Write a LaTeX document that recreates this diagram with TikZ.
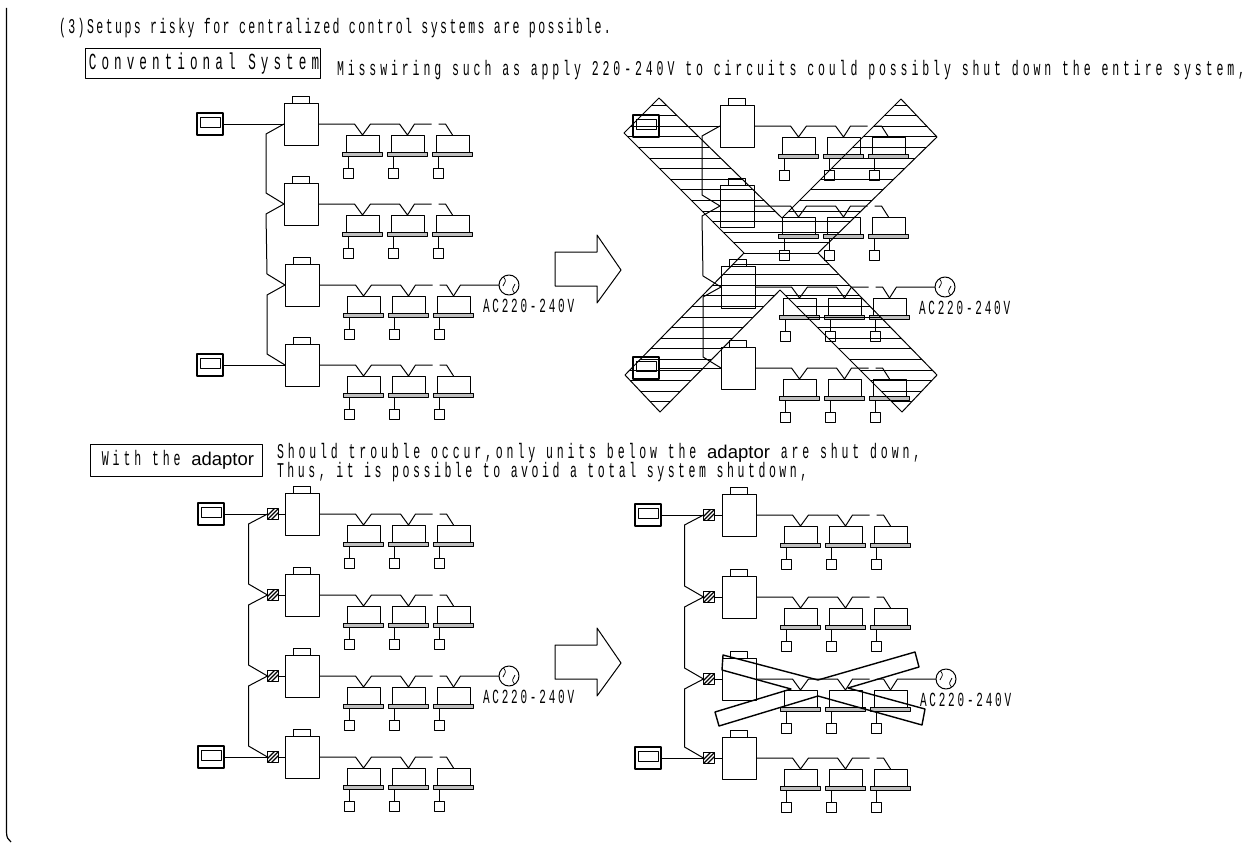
\documentclass[tikz,border=0pt]{standalone}
\usepackage{fontspec}
\usepackage{tikz}
\usetikzlibrary{calc}
\newfontfamily\platefont[FakeStretch=0.55]{Liberation Mono}
\newfontfamily\swapfont{Liberation Sans}
\newcommand{\adaptorword}[1]{{\swapfont\fontsize{#1}{#1}\selectfont adaptor}}
\newcommand{\plateset}[2]{\platefont\fontsize{#1}{#1}\selectfont\addfontfeature{LetterSpace=#2}}

% one outdoor unit with its three indoor units
\newcommand{\unitrow}[3]{
\node (#1o) [outbox, anchor=west] at (#2,#3) {};
\node (#1cap) [capbox, anchor=south] at (#1o.north) {};
\foreach \i/\dx in {1/62,2/107,3/152} {
\node (#1u\i) [indoorbox, anchor=north west] at (#2+\dx,#3+11) {};
\node (#1p\i) [panbox, anchor=north] at (#1u\i.south) {};
\node (#1c\i) [ctrlbox, anchor=north] at ($(#1p\i.south)+(-14,12)$) {};
\draw (#1p\i.south -| #1c\i.north) -- (#1c\i.north);
}
\draw (#1o.east) -- ($(#1u1.north)+(-8,-11)$) -- (#1u1.north) -- ($(#1u1.north)+(8,-11)$) -- ($(#1u2.north)+(-8,-11)$) -- (#1u2.north) -- ($(#1u2.north)+(7,-11)$) -- ($(#1u3.north)+(-21,-11)$);
\draw ($(#1u3.north)+(-14,-11)$) -- ($(#1u3.north)+(-7,-11)$) -- (#1u3.north);
}
\newcommand{\remoteunit}[3]{
\node (#1) [remotebox] at (#2,#3) {};
\node (#1s) [screenbox, anchor=north] at ($(#1.north)+(0,4)$) {};
}
\newcommand{\acsource}[1]{
\node (#1ac) [acbox] at ($(#1o.west)+(224,0)$) {};
\node (#1aclabel) [anchor=west, font=\plateset{20}{14}] at ($(#1ac)+(-26,21)$) {AC220-240V};
\draw (#1u3.north) -- ($(#1u3.north)+(7,-11)$) -- (#1ac.west);
\draw[line width=0.7pt] ($(#1ac)+(-6,1)$) .. controls ($(#1ac)+(-4,-4)$) and ($(#1ac)+(-2,-3)$) .. (#1ac) .. controls ($(#1ac)+(2,3)$) and ($(#1ac)+(4,4)$) .. ($(#1ac)+(6,-1)$);
}

\begin{document}
\begin{tikzpicture}[x=1pt, y=-1pt, line width=1pt, line join=round,
every node/.style={inner sep=0pt, outer sep=0pt},
outbox/.style={draw, minimum width=34pt, minimum height=42pt},
capbox/.style={draw, minimum width=17pt, minimum height=7pt},
indoorbox/.style={draw, minimum width=33pt, minimum height=17pt},
panbox/.style={draw, fill=black!25, minimum width=40pt, minimum height=4pt},
ctrlbox/.style={draw, minimum size=10pt},
remotebox/.style={draw, line width=1.2pt, minimum width=26pt, minimum height=22pt},
screenbox/.style={draw, line width=0.9pt, minimum width=20pt, minimum height=10pt},
acbox/.style={draw, circle, minimum size=20pt},
adaptorbox/.style={draw, minimum size=11pt, path picture={
\foreach \s in {-4,0,4} \draw[line width=1.3pt] ($(path picture bounding box.south west)+(\s,0)$) -- ($(path picture bounding box.north east)+(\s,0)$);}},
titlebox/.style={draw, minimum height=30pt, anchor=west}]
\useasboundingbox (0,0) rectangle (1248,843);

\draw[line width=1.2pt] (6.5,8) -- (6.5,832) .. controls (6.5,837) and (8,840) .. (11,842);

\node (head) [anchor=west, font=\plateset{21}{11.6}] at (59,28) {(3)Setups risky for centralized control systems are possible.};
\node (convtag) [titlebox, minimum width=235pt, font=\plateset{23}{22}] at (85,64) {\hspace{3pt}Conventional System\hspace{1pt}};
\node (convnote) [anchor=west, font=\plateset{21}{18.5}] at (337,70) {Misswiring such as apply 220-240V to circuits could possibly shut down the entire system,};
\node (adapttag) [titlebox, minimum width=172pt, minimum height=32pt, font=\plateset{21}{18.4}] at (90,460) {\hspace{4pt}With the \adaptorword{18.5}\hspace{8pt}};
\node (adaptnote) [anchor=west, font=\plateset{21}{18.4}] at (277,453) {Should trouble occur,only units below the \adaptorword{18.5} are shut down,};
\node (adaptnoteb) [anchor=west, font=\plateset{21}{16.9}] at (277,472) {Thus, it is possible to avoid a total system shutdown,};

\foreach \rowname/\rowx/\rowport in {cl1/284/124,cl2/284/204,cl3/285/285,cl4/285/365,cr1/720/126,cr2/720/206,cr3/721/287,cr4/721/368,al1/285/514,al2/285/595,al3/285/676,al4/285/757,ar1/722/515,ar2/722/597,ar3/722/679,ar4/722/758} {
\unitrow{\rowname}{\rowx}{\rowport}
}
\acsource{cl3}
\acsource{cr3}
\acsource{al3}
\acsource{ar3}

\remoteunit{clr1}{210}{124}
\remoteunit{clr2}{210}{365}
\remoteunit{crr1}{646}{126}
\remoteunit{crr2}{646}{368}
\remoteunit{alr1}{211}{514}
\remoteunit{alr2}{211}{757}
\remoteunit{arr1}{648}{515}
\remoteunit{arr2}{648}{758}

\draw (clr1.east) -- (cl1o.west);
\draw (clr2.east) -- (cl4o.west);
\draw (crr1.east) -- (cr1o.west);
\draw (crr2.east) -- (cr4o.west);

\foreach \upper/\lower in {cl1/cl2,cl2/cl3,cl3/cl4} {
\draw (\upper o.west) -- ($(\upper o.west)+(-18,10)$) -- ($(\lower o.west)+(-18,-11)$) -- (\lower o.west);
}
\foreach \upper/\lower in {cr1/cr2,cr2/cr3,cr3/cr4} {
\draw (\upper o.west) -- ($(\upper o.west)+(-18,10)$) -- ($(\lower o.west)+(-18,-11)$) -- (\lower o.west);
}

\foreach \row in {al1,al2,al3,al4} {
\node (\row a) [adaptorbox] at ($(\row o.west)+(-12,0)$) {};
\draw (\row a.east) -- (\row o.west);
}
\foreach \row in {ar1,ar2,ar3,ar4} {
\node (\row a) [adaptorbox] at ($(\row o.west)+(-13,0)$) {};
\draw (\row a.east) -- (\row o.west);
}
\draw (alr1.east) -- (al1a.west);
\draw (alr2.east) -- (al4a.west);
\draw (arr1.east) -- (ar1a.west);
\draw (arr2.east) -- (ar4a.west);

\foreach \upper/\lower in {al1/al2,al2/al3,al3/al4} {
\draw (\upper a.west) -- ($(\upper a.west)+(-19,10)$) -- ($(\lower a.west)+(-19,-11)$) -- (\lower a.west);
}
\foreach \upper/\lower in {ar1/ar2,ar2/ar3,ar3/ar4} {
\draw (\upper a.west) -- ($(\upper a.west)+(-19,10)$) -- ($(\lower a.west)+(-19,-11)$) -- (\lower a.west);
}

\draw (555,252) -- (597,252) -- (597,235) -- (621,270) -- (597,303) -- (597,286) -- (555,286) -- cycle;
\draw (555,645) -- (597,645) -- (597,628) -- (621,663) -- (597,696) -- (597,679) -- (555,679) -- cycle;

\begin{scope}
\clip (659,98) -- (624,133) -- (744,253) -- (625,375) -- (660,412) -- (780,290) -- (902,412) -- (937,375) -- (818,253) -- (937,137) -- (901,99) -- (782,218) -- cycle;
\foreach \h in {0,...,29} \draw (600,105+10.6*\h) -- (960,105+10.6*\h);
\end{scope}
\draw (659,98) -- (624,133) -- (744,253) -- (625,375) -- (660,412) -- (780,290) -- (902,412) -- (937,375) -- (818,253) -- (937,137) -- (901,99) -- (782,218) -- cycle;

\draw[line width=1.4pt] (723,655) -- (818,680) -- (915,652) -- (919,667) -- (848,688) -- (925,709) -- (922,725) -- (818,696) -- (719,726) -- (715,712) -- (791,689) -- (722,670) -- cycle;
\end{tikzpicture}
\end{document}
